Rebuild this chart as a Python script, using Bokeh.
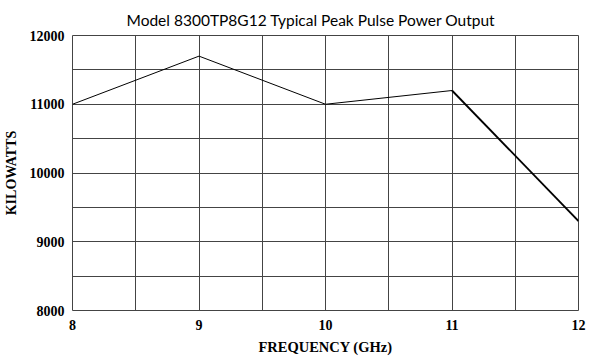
from bokeh.plotting import figure
from bokeh.models import Range1d, FixedTicker
from bokeh.embed import file_html
from bokeh.resources import INLINE

freq = [8, 9, 10, 11, 12]
power = [11000, 11700, 11000, 11200, 9300]
x_ticks = [8, 9, 10, 11, 12]
x_minor = [8.5, 9.5, 10.5, 11.5]
y_ticks = [8000, 9000, 10000, 11000, 12000]
y_minor = [8500, 9500, 10500, 11500]
title_text = "Model 8300TP8G12 Typical Peak Pulse Power Output"

p = figure(frame_width=506, frame_height=275, output_backend="svg", toolbar_location=None,
           x_range=Range1d(8, 12), y_range=Range1d(8000, 12000),
           min_border_left=71, min_border_right=23, min_border_top=35, min_border_bottom=50,
           title=title_text)
p.background_fill_color = "white"
p.border_fill_color = "white"
p.outline_line_color = "#444444"
p.outline_line_width = 1

p.title.text_font = "Lato"
p.title.text_font_size = "15.5px"
p.title.text_font_style = "normal"
p.title.align = "left"
p.title.offset = 54
p.title.standoff = 14
p.title.text_color = "black"

p.xaxis.ticker = FixedTicker(ticks=x_ticks, minor_ticks=x_minor)
p.yaxis.ticker = FixedTicker(ticks=y_ticks, minor_ticks=y_minor)

for ax in (p.xaxis, p.yaxis):
    ax.axis_line_color = None
    ax.major_tick_line_color = None
    ax.minor_tick_line_color = None
    ax.major_tick_out = 0
    ax.major_tick_in = 0
    ax.minor_tick_out = 0
    ax.minor_tick_in = 0
    ax.major_label_text_font = "Liberation Serif"
    ax.major_label_text_font_style = "bold"
    ax.major_label_text_font_size = "14px"
    ax.major_label_text_color = "black"
    ax.axis_label_text_font = "Liberation Serif"
    ax.axis_label_text_font_style = "bold"
    ax.axis_label_text_color = "black"

p.xaxis.axis_label = "FREQUENCY (GHz)"
p.yaxis.axis_label = "KILOWATTS"
p.xaxis.axis_label_text_font_size = "14.5px"
p.yaxis.axis_label_text_font_size = "14px"
p.xaxis.major_label_standoff = 9
p.yaxis.major_label_standoff = 8
p.xaxis.axis_label_standoff = 6
p.yaxis.axis_label_standoff = 8

for g in (p.xgrid, p.ygrid):
    g.grid_line_color = "#444444"
    g.grid_line_width = 1
    g.minor_grid_line_color = "#444444"
    g.minor_grid_line_width = 1

p.line(freq[:4], power[:4], line_color="black", line_width=1)
p.line(freq[3:], power[3:], line_color="black", line_width=1.8)

open("out.html", "w").write(file_html(p, INLINE))
